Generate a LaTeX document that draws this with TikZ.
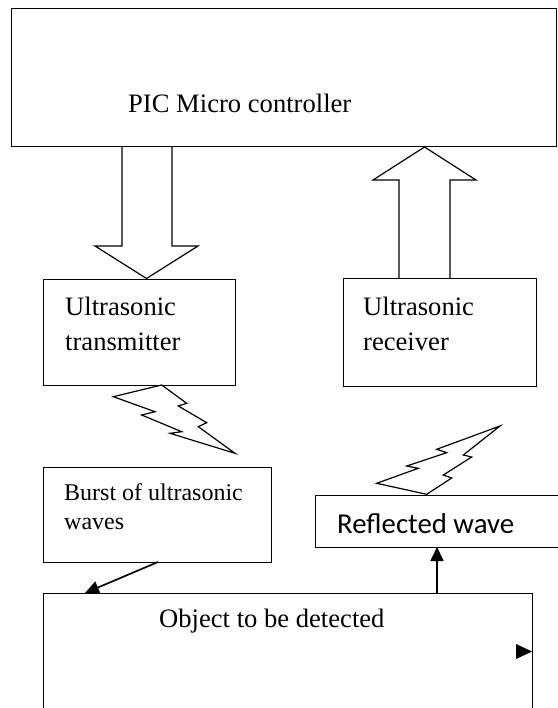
\documentclass[tikz,border=0pt]{standalone}
\usepackage{fontspec}
\setmainfont{Liberation Serif}
\newfontfamily\calib{Carlito}
\usetikzlibrary{arrows.meta,calc}
\begin{document}
\begin{tikzpicture}[x=1pt,y=-1pt,
  box/.style={draw,line width=1pt,inner sep=0pt,outer sep=0pt,anchor=north west},
  lbl/.style={anchor=base west,inner sep=0pt,align=left,font=\fontsize{26.6}{35}\selectfont},
  bigarrow/.style={draw,line width=1.2pt,line join=miter},
  bolt/.style={draw,line width=1.2pt,line join=miter},
  conn/.style={line width=1.7pt,-{Triangle[length=14pt,width=13pt]}}]
\useasboundingbox (0,0) rectangle (557,708);

% boxes
\node[box,minimum width=545pt,minimum height=138pt] (mcu) at (11,9) {};
\node[box,minimum width=192pt,minimum height=106pt] (tx) at (43,279) {};
\node[box,minimum width=193pt,minimum height=108pt] (rx) at (343,278) {};
\node[box,minimum width=228pt,minimum height=95pt] (burst) at (43,467) {};
\node[box,minimum width=250pt,minimum height=52pt] (refl) at (315,495) {};
\node[box,minimum width=489pt,minimum height=130pt] (obj) at (43,593) {};

% labels (anchor = baseline of last line)
\node[lbl] (tmcu) at (128,113) {PIC Micro controller};
\node[lbl] (ttx) at (65,350) {Ultrasonic\\transmitter};
\node[lbl] (trx) at (363,350) {Ultrasonic\\receiver};
\node[lbl,font=\fontsize{24}{29}\selectfont] (tburst) at (64,529) {Burst of ultrasonic\\waves};
\node[lbl,font=\calib\fontsize{28.8}{34}\selectfont] (trefl) at (337,533) {Reflected wave};
\node[lbl] (tobj) at (159,627) {Object to be detected};

% block arrows
\draw[bigarrow] (122,147) -- (122,246) -- (95,246) -- (146.5,278.5) -- (198,246) -- (172,246) -- (172,147);
\draw[bigarrow] (399,278) -- (399,180) -- (373,180) -- (424.5,147) -- (476,180) -- (450,180) -- (450,278);

% lightning bolts
\draw[bolt] (161.7,385) -- (113.3,396.7) -- (155,411.7) -- (141.7,415) -- (181.7,431.7) -- (170,433.3)
  -- (235,453.3) -- (198.3,426.7) -- (206.7,422.7) -- (178.3,406) -- (186.7,403.3) -- cycle;
\draw[bolt] (426.7,494.3) -- (376.7,483.3) -- (418.3,468.3) -- (406.7,466) -- (446.7,452.7) -- (436.7,449.3)
  -- (500,426) -- (463.3,455) -- (471.7,457) -- (443.3,475) -- (451.7,478) -- cycle;

% connectors
\coordinate (c1) at ($(burst.south west)+(115,0)$);
\coordinate (c2) at ($(obj.north west)+(42,0)$);
\draw[conn] (c1) -- (c2);
\coordinate (c3) at ($(obj.north west)+(394,0)$);
\coordinate (c4) at ($(refl.south west)+(122,0)$);
\draw[conn] (c3) -- (c4);

% small arrowhead at right edge of object box
\fill ($(obj.north east)+(-16,51)$) -- ($(obj.north east)+(0,58.5)$) -- ($(obj.north east)+(-16,66)$) -- cycle;
\end{tikzpicture}
\end{document}
